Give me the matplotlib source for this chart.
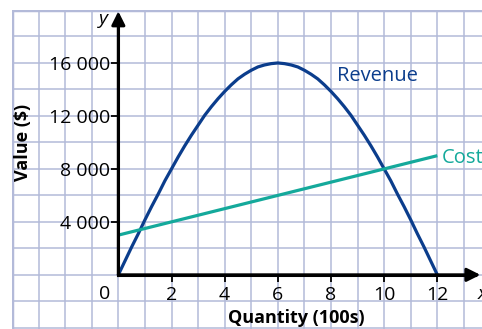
import matplotlib.pyplot as plt

# quantity (100s) and the two curves
q_revenue = [0, 0.25, 0.5, 0.75, 1, 1.25, 1.5, 1.75, 2, 2.25, 2.5, 2.75, 3,
             3.25, 3.5, 3.75, 4, 4.25, 4.5, 4.75, 5, 5.25, 5.5, 5.75, 6,
             6.25, 6.5, 6.75, 7, 7.25, 7.5, 7.75, 8, 8.25, 8.5, 8.75, 9,
             9.25, 9.5, 9.75, 10, 10.25, 10.5, 10.75, 11, 11.25, 11.5, 11.75, 12]
revenue = [0, 1050, 2100, 3100, 4150, 5150, 6100, 7100, 8000, 8900, 9750, 10550, 11300,
           12050, 12700, 13300, 13850, 14350, 14800, 15150, 15450, 15700, 15850, 15950, 16000,
           15950, 15850, 15700, 15450, 15150, 14800, 14350, 13850, 13300, 12700, 12050, 11300,
           10550, 9750, 8900, 8000, 7100, 6100, 5150, 4150, 3100, 2100, 1050, 0]
q_cost = [0, 12]
cost = [3000, 9000]

x_ticks = [2, 4, 6, 8, 10, 12]
y_ticks = [4000, 8000, 12000, 16000]
y_labels = ['4 000', '8 000', '12 000', '16 000']

navy = '#0b3d8c'
teal = '#14a99b'
gridc = '#b3bad9'
font = 'Open Sans'

fig = plt.figure(figsize=(4.82, 3.29), dpi=100)
ax = fig.add_axes([12 / 482, 0, 470 / 482, 319 / 329])
ax.set_xlim(-4, 13.68)
ax.set_ylim(-4090, 20000)

# graph paper
ax.set_xticks(range(-4, 14), minor=True)
ax.set_yticks(range(-4000, 20001, 2000), minor=True)
ax.grid(True, which='both', color=gridc, lw=1.1)
ax.tick_params(which='minor', length=0)
ax.set_axisbelow(True)
ax.axvline(-4, color=gridc, lw=2.5)
ax.axhline(20000, color=gridc, lw=2.5)

for s in ['top', 'right']:
    ax.spines[s].set_visible(False)
ax.spines['left'].set_position(('data', 0))
ax.spines['bottom'].set_position(('data', 0))
ax.spines['left'].set_bounds(0, 19500)
ax.spines['bottom'].set_bounds(0, 13.4)
ax.spines['left'].set_linewidth(2.2)
ax.spines['bottom'].set_linewidth(2.2)

ax.set_xticks(x_ticks)
ax.set_xticklabels([str(v) for v in x_ticks], fontfamily=font, fontsize=14)
ax.set_yticks(y_ticks)
ax.set_yticklabels(y_labels, fontfamily=font, fontsize=14)
ax.tick_params(which='major', length=5, width=1.3, pad=1, colors='black')
ax.tick_params(axis='x', which='major', pad=3)
ax.text(-0.5, -1450, '0', fontfamily=font, fontsize=14, ha='center', va='center')

# axis arrows
ax.annotate('', xy=(13.62, 0), xytext=(0, 0),
            arrowprops=dict(arrowstyle='-|>', lw=2.2, color='black', mutation_scale=20, shrinkA=0, shrinkB=0))
ax.annotate('', xy=(0, 19900), xytext=(0, 0),
            arrowprops=dict(arrowstyle='-|>', lw=2.2, color='black', mutation_scale=20, shrinkA=0, shrinkB=0))
ax.text(-0.55, 19350, 'y', fontfamily=font, fontsize=14, style='italic', ha='center', va='center')
ax.text(13.7, -1450, 'x', fontfamily=font, fontsize=14, style='italic', ha='center', va='center')

ax.plot(q_revenue, revenue, color=navy, lw=2.3, solid_capstyle='butt')
ax.plot(q_cost, cost, color=teal, lw=2.3, solid_capstyle='butt')
ax.text(8.22, 15000, 'Revenue', color=navy, fontfamily=font, fontsize=14.5, va='center')
ax.text(12.15, 8850, 'Cost', color=teal, fontfamily=font, fontsize=14.5, va='center')

ax.text(6.7, -3250, 'Quantity (100s)', fontfamily=font, fontsize=13, fontweight='bold', ha='center', va='center')
ax.text(-3.6, 10000, 'Value ($)', fontfamily=font, fontsize=13, fontweight='bold', ha='center', va='center', rotation=90)

fig.savefig('out.png', dpi=100)
